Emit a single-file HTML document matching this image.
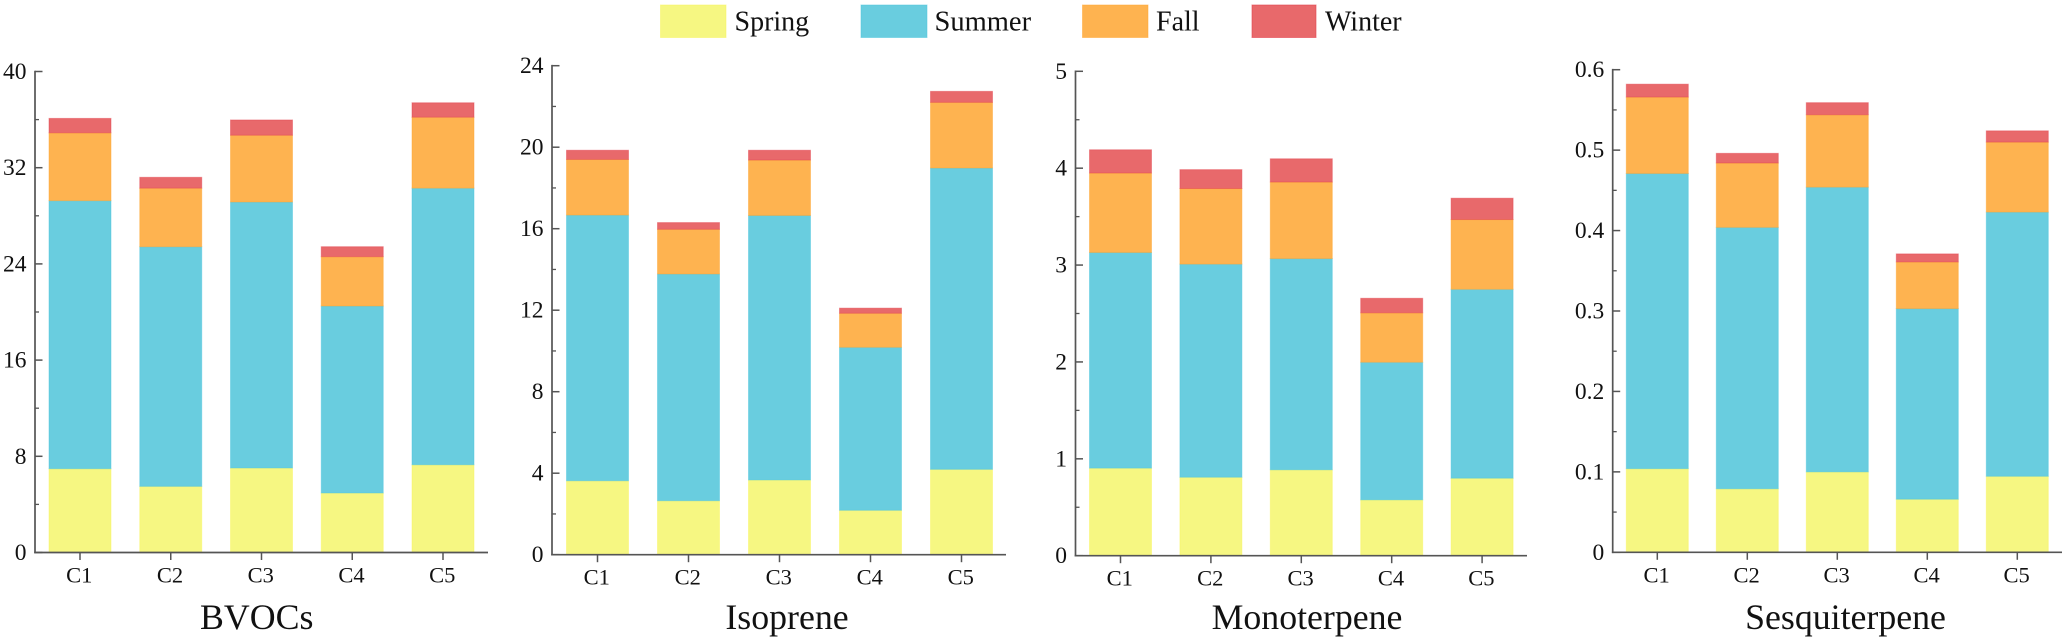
<!DOCTYPE html>
<html lang="en">
<head>
<meta charset="utf-8">
<title>Seasonal emissions by cluster</title>
<style>
html,body{margin:0;padding:0;background:#fff;width:2067px;height:639px;overflow:hidden}
svg{display:block}
text{font-family:"Liberation Serif",serif;fill:#111}
</style>
</head>
<body>
<svg id="chart" xmlns="http://www.w3.org/2000/svg" width="2067" height="639" viewBox="0 0 2067 639">
  <rect x="0" y="0" width="2067" height="639" fill="#fff"/>
  <g>
    <g>
      <rect x="660.5" y="5" width="65.5" height="32.5" fill="#f6f782" stroke="#f8f45c" stroke-opacity=".5"/>
      <text x="734.5" y="30.7" font-size="28">Spring</text>
    </g>
    <g>
      <rect x="861" y="5" width="66" height="32.5" fill="#69cddf" stroke="#4cc6de" stroke-opacity=".5"/>
      <text x="934.5" y="30.7" font-size="28.5">Summer</text>
    </g>
    <g>
      <rect x="1082.5" y="5" width="65.5" height="32.5" fill="#feb350" stroke="#ffa52f" stroke-opacity=".5"/>
      <text x="1156" y="30.7" font-size="28">Fall</text>
    </g>
    <g>
      <rect x="1252" y="5" width="64" height="32.5" fill="#e8696b" stroke="#e2444f" stroke-opacity=".6"/>
      <text x="1325" y="30.7" font-size="28">Winter</text>
    </g>
  </g>
</svg>
<script>
const categories = ['C1', 'C2', 'C3', 'C4', 'C5'];

const bvocsTicks = [0, 8, 16, 24, 32, 40];
const bvocsSpring = [6.97, 5.5, 7.03, 4.95, 7.3];
const bvocsSummer = [22.29, 19.93, 22.12, 15.55, 23.0];
const bvocsFall = [5.64, 4.87, 5.55, 4.1, 5.9];
const bvocsWinter = [1.2, 0.9, 1.27, 0.83, 1.2];

const isopreneTicks = [0, 4, 8, 12, 16, 20, 24];
const isopreneSpring = [3.63, 2.65, 3.67, 2.18, 4.19];
const isopreneSummer = [13.04, 11.13, 12.98, 8.0, 14.79];
const isopreneFall = [2.73, 2.19, 2.72, 1.67, 3.22];
const isopreneWinter = [0.45, 0.33, 0.48, 0.25, 0.54];

const monoterpeneTicks = [0, 1, 2, 3, 4, 5];
const monoterpeneSpring = [0.904, 0.81, 0.887, 0.577, 0.8];
const monoterpeneSummer = [2.226, 2.2, 2.18, 1.42, 1.95];
const monoterpeneFall = [0.82, 0.78, 0.79, 0.51, 0.72];
const monoterpeneWinter = [0.24, 0.195, 0.24, 0.15, 0.22];

const sesquiterpeneTicks = [0, 0.1, 0.2, 0.3, 0.4, 0.5, 0.6];
const sesquiterpeneSpring = [0.104, 0.079, 0.1, 0.066, 0.0945];
const sesquiterpeneSummer = [0.367, 0.325, 0.354, 0.237, 0.3285];
const sesquiterpeneFall = [0.095, 0.08, 0.09, 0.058, 0.087];
const sesquiterpeneWinter = [0.016, 0.012, 0.015, 0.01, 0.014];

const seasonNames = ['spring', 'summer', 'fall', 'winter'];
const seasonFills = ['#f6f782', '#69cddf', '#feb350', '#e8696b'];
const seasonEdges = ['#f8f45c', '#4cc6de', '#ffa52f', '#e2444f'];

const NS = 'http://www.w3.org/2000/svg';
const svg = document.getElementById('chart');
const AXIS_COLOR = '#555';

function make(tag, attrs, parent) {
  const el = document.createElementNS(NS, tag);
  for (const k in attrs) el.setAttribute(k, attrs[k]);
  parent.appendChild(el);
  return el;
}

function drawPanel(p) {
  const g = make('g', {}, svg);
  
  

  const yMax = p.ticks[p.ticks.length - 1];
  const yScale = function (v) { return p.bottom - (v / yMax) * (p.bottom - p.top); };
  const xScale = function (i) { return p.firstX + i * p.stepX; };

  // stacked bars
  categories.forEach(function (cat, i) {
    let base = 0;
    p.series.forEach(function (values, s) {
      const yTop = yScale(base + values[i]);
      const yBase = yScale(base);
      const rect = make('rect', {
        x: xScale(i) - p.barWidth / 2,
        y: yTop,
        width: p.barWidth,
        height: yBase - yTop,
        fill: seasonFills[s],
        stroke: seasonEdges[s],
        'stroke-opacity': 0.45,
        'stroke-width': 1
      }, g);
      
      
      base += values[i];
    });
  });

  // y axis line
  const yLine = make('line', { x1: p.axisX, x2: p.axisX, y1: p.top - 0.8, y2: p.bottom + 0.8, stroke: AXIS_COLOR, 'stroke-width': 1.7 }, g);
  
  

  // y ticks and labels
  p.ticks.forEach(function (t, i) {
    const y = yScale(t);
    const tick = make('line', { x1: p.axisX, x2: p.axisX + 7.5, y1: y, y2: y, stroke: AXIS_COLOR, 'stroke-width': 1.5 }, g);
    
    
    const label = make('text', { x: p.axisX - 8.5, y: y + 7.5, 'text-anchor': 'end', 'font-size': 23.5 }, g);
    label.textContent = String(t);
    
    
    if (i < p.ticks.length - 1) {
      const my = yScale((t + p.ticks[i + 1]) / 2);
      const minor = make('line', { x1: p.axisX, x2: p.axisX + 4, y1: my, y2: my, stroke: AXIS_COLOR, 'stroke-width': 1.3 }, g);
      
      
    }
  });

  // x axis line
  const xLine = make('line', { x1: p.axisX - 0.8, x2: p.axisEnd, y1: p.bottom, y2: p.bottom, stroke: AXIS_COLOR, 'stroke-width': 1.7 }, g);
  
  

  // x ticks and labels
  categories.forEach(function (cat, i) {
    const x = xScale(i);
    const tick = make('line', { x1: x, x2: x, y1: p.bottom, y2: p.bottom + 7.5, stroke: AXIS_COLOR, 'stroke-width': 1.5 }, g);
    
    
    const label = make('text', { x: x - 0.7, y: p.bottom + 30, 'text-anchor': 'middle', 'font-size': 22.5 }, g);
    label.textContent = cat;
    
    
  });

  // panel title
  const title = make('text', { x: p.titleX, y: 629, 'text-anchor': 'middle', 'font-size': 35.8 }, g);
  title.textContent = p.title;
  
  
}

drawPanel({
  key: 'bvocs', title: 'BVOCs', titleX: 256.7,
  axisX: 35, axisEnd: 488, top: 71.5, bottom: 552.5,
  firstX: 80, stepX: 90.75, barWidth: 62,
  ticks: bvocsTicks,
  series: [bvocsSpring, bvocsSummer, bvocsFall, bvocsWinter]
});
drawPanel({
  key: 'isoprene', title: 'Isoprene', titleX: 787,
  axisX: 552, axisEnd: 1006, top: 65.7, bottom: 554.7,
  firstX: 597.5, stepX: 91, barWidth: 62,
  ticks: isopreneTicks,
  series: [isopreneSpring, isopreneSummer, isopreneFall, isopreneWinter]
});
drawPanel({
  key: 'monoterpene', title: 'Monoterpene', titleX: 1307,
  axisX: 1075.5, axisEnd: 1527, top: 71.3, bottom: 555.7,
  firstX: 1120.5, stepX: 90.4, barWidth: 62,
  ticks: monoterpeneTicks,
  series: [monoterpeneSpring, monoterpeneSummer, monoterpeneFall, monoterpeneWinter]
});
drawPanel({
  key: 'sesquiterpene', title: 'Sesquiterpene', titleX: 1845.5,
  axisX: 1612.7, axisEnd: 2062, top: 69.7, bottom: 552.3,
  firstX: 1657.3, stepX: 90, barWidth: 62,
  ticks: sesquiterpeneTicks,
  series: [sesquiterpeneSpring, sesquiterpeneSummer, sesquiterpeneFall, sesquiterpeneWinter]
});
</script>
</body>
</html>
